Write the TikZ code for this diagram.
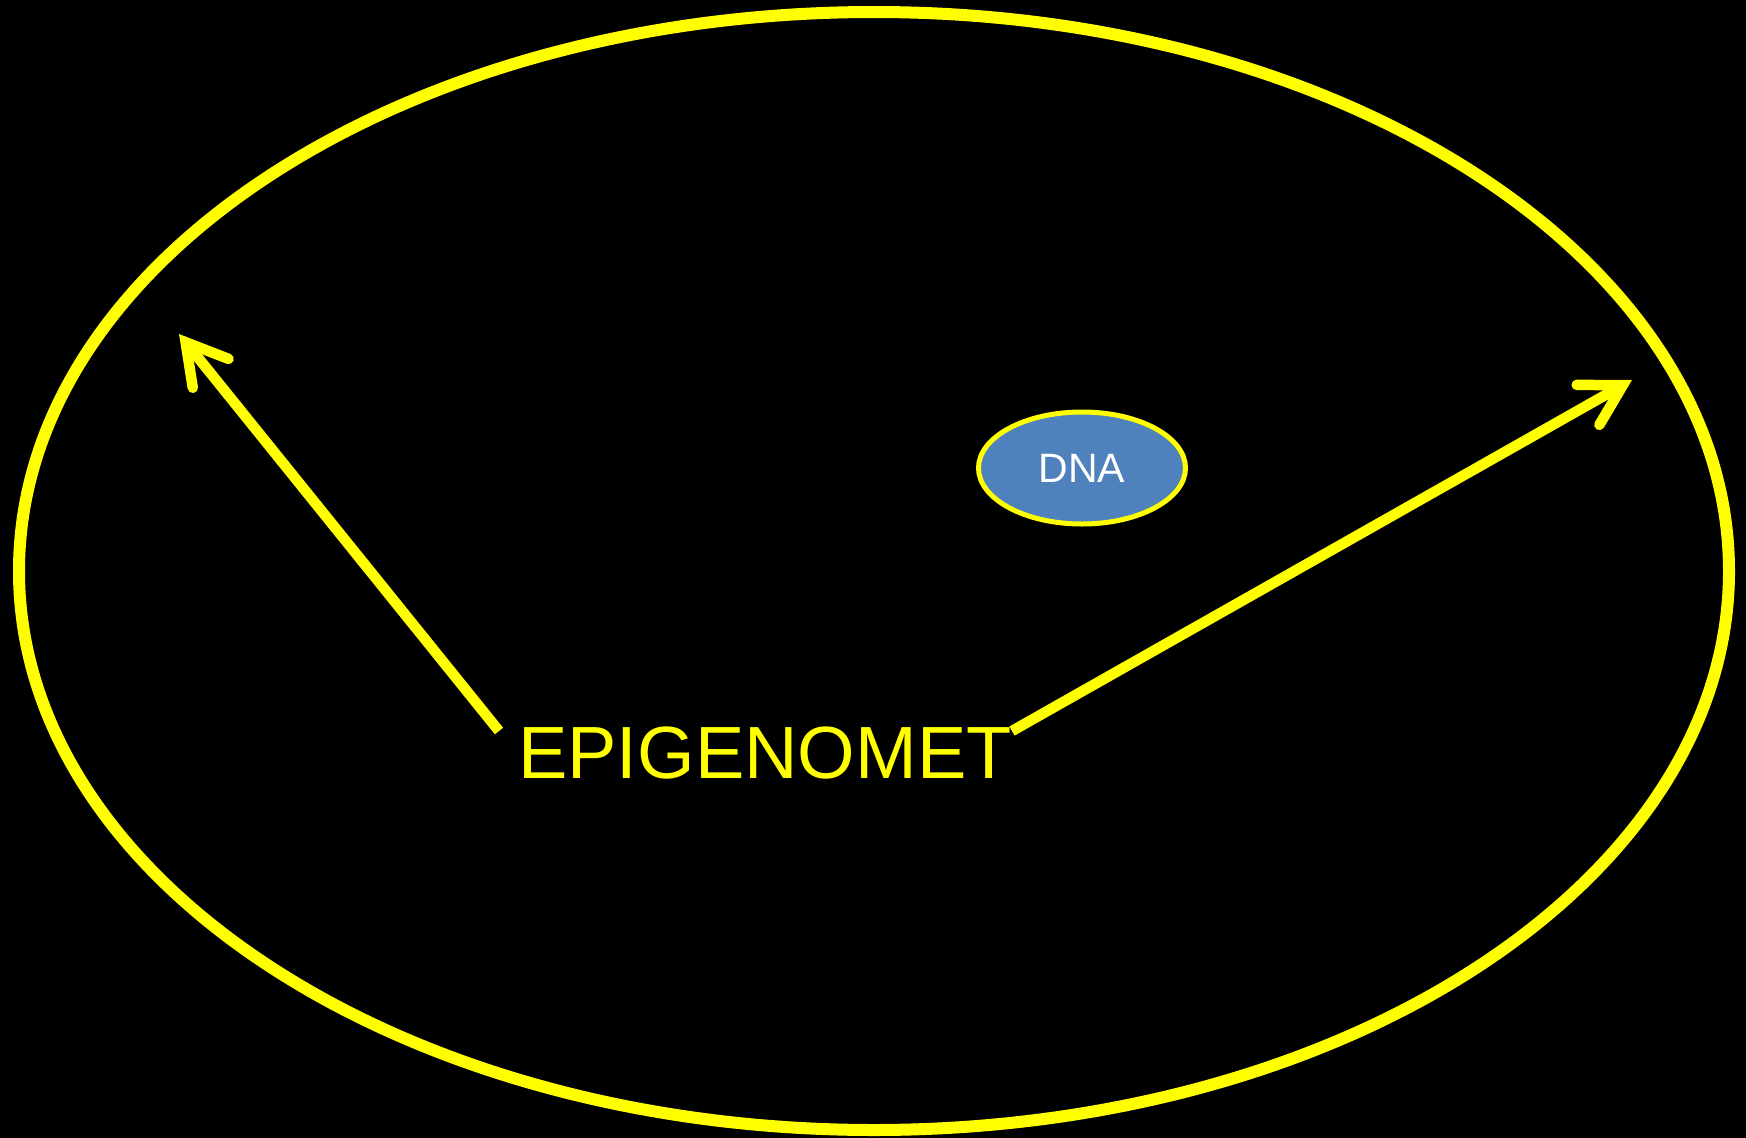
\documentclass[tikz,border=0pt]{standalone}
\usepackage{fontspec}
\setmainfont{Liberation Sans}
\usetikzlibrary{arrows.meta,shapes.geometric}
\definecolor{gul}{RGB}{255,255,0}
\definecolor{dnabla}{RGB}{79,129,189}

\begin{document}
\begin{tikzpicture}[x=1pt,y=-1pt,
  pil/.style={draw=gul,line width=10.5pt,-{Straight Barb[length=40pt,width=46pt,line cap=round]}},
  cellkant/.style={draw=gul,line width=12pt}]
\fill[black] (0,0) rectangle (1746,1138);
\useasboundingbox (0,0) rectangle (1746,1138);

\draw[cellkant] (874,571) ellipse [x radius=855, y radius=559];

\node[ellipse,draw=gul,fill=dnabla,line width=5pt,minimum width=207pt,minimum height=112pt,
  text=white,font=\fontsize{41}{46}\selectfont] (dna) at (1082,468) {DNA};

\node[anchor=base west,inner sep=0pt,text=gul,font=\fontsize{74}{80}\selectfont] (epi) at (518,778) {EPIGENOMET};

\coordinate (vstart) at (499,731);
\coordinate (vspets) at (179,334);
\coordinate (hstart) at (1012,731);
\coordinate (hspets) at (1632,380);

\draw[pil] (vstart) -- (vspets);
\draw[pil] (hstart) -- (hspets);
\end{tikzpicture}
\end{document}
